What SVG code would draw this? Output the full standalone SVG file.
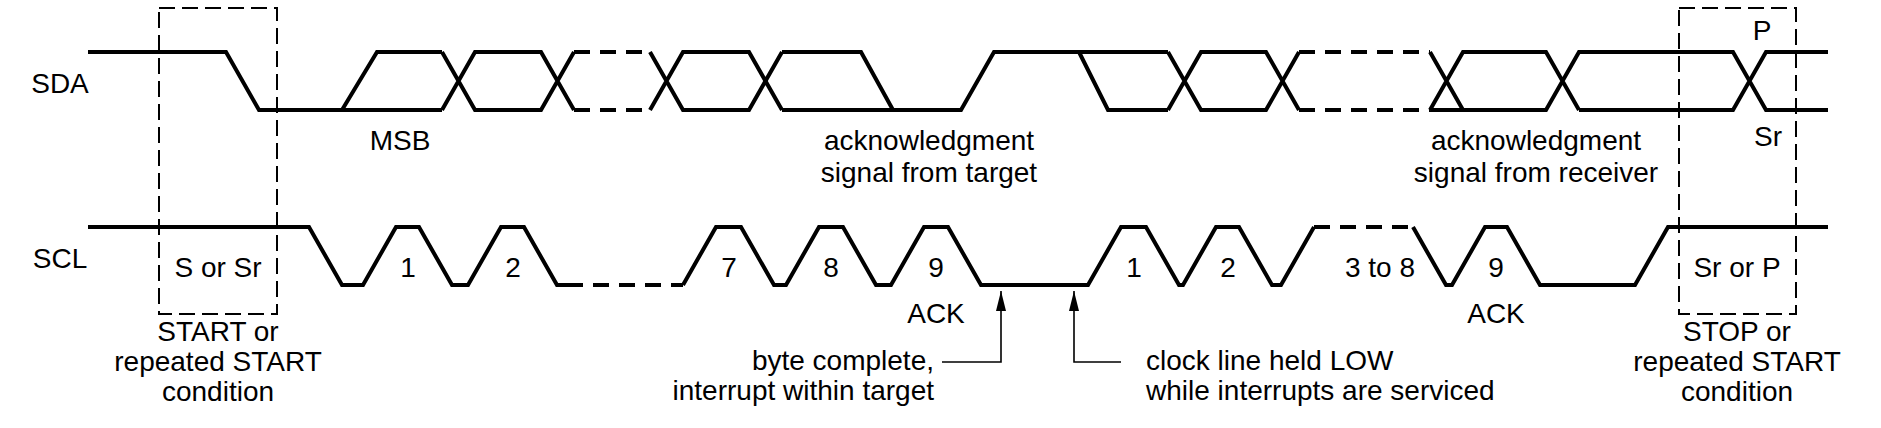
<svg xmlns="http://www.w3.org/2000/svg" width="1881" height="428" viewBox="0 0 1881 428">
<defs>
<style>
.s{fill:none;stroke:#000;stroke-width:4;stroke-linejoin:miter}
.d{fill:none;stroke:#000;stroke-width:4;stroke-dasharray:16 10}
.b{fill:none;stroke:#000;stroke-width:2;stroke-dasharray:16 7}
.c{fill:none;stroke:#000;stroke-width:1.6}
text{font-family:"Liberation Sans",Arial,sans-serif;font-size:28px;fill:#000;text-anchor:middle}
.e{text-anchor:end}.l{text-anchor:start}
</style>
<marker id="ah" viewBox="0 0 20 10" refX="20" refY="5" markerWidth="20" markerHeight="10" markerUnits="userSpaceOnUse" orient="auto">
<path d="M0,0 L20,5 L0,10 Z" fill="#000"/>
</marker>
</defs>
<rect width="1881" height="428" fill="#fff"/>
<g id="labels">
<text x="60" y="93">SDA</text>
<text x="60" y="268">SCL</text>
</g>
<g id="start-box">
<rect class="b" x="159" y="8" width="118" height="306"/>
<text x="218" y="277">S or Sr</text>
<text x="218" y="341">START or</text>
<text x="218" y="371">repeated START</text>
<text x="218" y="401">condition</text>
</g>
<g id="stop-box">
<rect class="b" x="1679" y="8" width="117" height="306"/>
<text x="1762" y="40">P</text>
<text x="1768" y="146">Sr</text>
<text x="1737" y="277">Sr or P</text>
<text x="1737" y="341">STOP or</text>
<text x="1737" y="371">repeated START</text>
<text x="1737" y="401">condition</text>
</g>
<g id="sda">
<path class="s" d="M88,52 H226 L259,110 H442 M342,110 L377,52 H442"/>
<path class="s" d="M442,52 L475,110 H541 L574,52 M442,110 L475,52 H541 L574,110"/>
<path class="d" d="M574,52 H650 M574,110 H650"/>
<path class="s" d="M650,52 L683,110 H749 L782,52 M650,110 L683,52 H749 L782,110"/>
<path class="s" d="M782,52 H861 L893,110 M782,110 H961 L994,52 H1168 M1079,52 L1108,110 H1168"/>
<path class="s" d="M1168,52 L1201,110 H1266 L1299,52 M1168,110 L1201,52 H1266 L1299,110"/>
<path class="d" d="M1299,52 H1430 M1299,110 H1430"/>
<path class="s" d="M1430,52 L1463,110 M1430,110 L1463,52 H1546 L1579,110 M1430,110 H1546 L1579,52 H1733 L1766,110 H1828 M1579,110 H1733 L1766,52 H1828"/>
<text x="400" y="150">MSB</text>
<text x="929" y="150">acknowledgment</text>
<text x="929" y="182">signal from target</text>
<text x="1536" y="150">acknowledgment</text>
<text x="1536" y="182">signal from receiver</text>
</g>
<g id="scl">
<path class="s" d="M88,227 H309 L342,285 H363 L396,227 H419 L452,285 H468 L501,227 H524 L557,285 H567"/>
<path class="d" d="M567,285 H683"/>
<path class="s" d="M683,285 L716,227 H741 L774,285 H786 L819,227 H843 L876,285 H891 L924,227 H948 L981,285 H1088 L1121,227 H1146 L1179,285 H1183 L1216,227 H1239 L1272,285 H1281 L1314,227"/>
<path class="d" d="M1314,227 H1413"/>
<path class="s" d="M1413,227 L1446,285 H1452 L1485,227 H1507 L1540,285 H1635 L1668,227 H1828"/>
<text x="408" y="277">1</text>
<text x="513" y="277">2</text>
<text x="729" y="277">7</text>
<text x="831" y="277">8</text>
<text x="936" y="277">9</text>
<text x="936" y="323">ACK</text>
<text x="1134" y="277">1</text>
<text x="1228" y="277">2</text>
<text x="1380" y="277">3 to 8</text>
<text x="1496" y="277">9</text>
<text x="1496" y="323">ACK</text>
</g>
<g id="connectors">
<path class="c" d="M942,362 H1001 V291" marker-end="url(#ah)"/>
<path class="c" d="M1121,362 H1074 V291" marker-end="url(#ah)"/>
</g>
<g id="notes">
<text class="e" x="934" y="370">byte complete,</text>
<text class="e" x="934" y="400">interrupt within target</text>
<text class="l" x="1146" y="370">clock line held LOW</text>
<text class="l" x="1146" y="400">while interrupts are serviced</text>
</g>
</svg>
